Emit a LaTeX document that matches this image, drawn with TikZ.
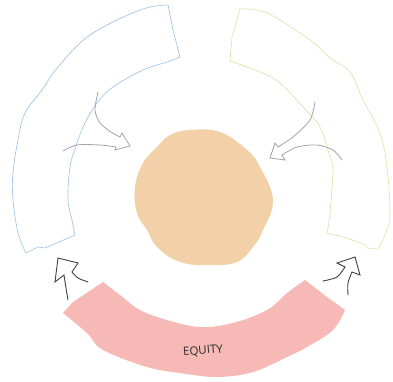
\documentclass[tikz,border=0pt]{standalone}
\usepackage{fontspec}
\setmainfont{Open Sans}
\begin{document}
\begin{tikzpicture}[x=1pt,y=-1pt,
  bandblue/.style={draw=blue!40!cyan!30!white, draw=bandbluecol, line width=0.6pt, line join=round},
  bandgreen/.style={draw=bandgreencol, line width=0.6pt, line join=round},
  lightarrow/.style={draw=arrowgray, line width=0.8pt, line join=miter, line cap=round},
  darkarrow/.style={draw=arrowdark, line width=0.9pt, line join=miter, line cap=round},
  lbl/.style={font=\fontsize{11.5}{12}\selectfont, text=textcol, inner sep=0pt}]
\definecolor{bandbluecol}{HTML}{9BBFE0}
\definecolor{bandgreencol}{HTML}{D6E3A4}
\definecolor{orangecol}{HTML}{F3D1A8}
\definecolor{pinkcol}{HTML}{F6B9B6}
\definecolor{arrowgray}{HTML}{A3A3A3}
\definecolor{arrowdark}{HTML}{404040}
\definecolor{textcol}{HTML}{2A2A2A}
\useasboundingbox (0,0) rectangle (393,382);
% left (blue) band
\draw[bandblue] plot[smooth, tension=0.6] coordinates {(26,253) (18,233) (13,200) (13,173) (18,140) (25,113) (42,90) (58,67) (90,35) (140,10) (168,5)}
  -- (173,30) -- (180,57)
  -- plot[smooth, tension=0.6] coordinates {(180,57) (167,62) (143,70) (113,87) (97,103) (85,123) (77,143) (70,167) (68,200) (72,220) (75,235)}
  -- (45,248) -- (38,247) -- cycle;
% right (green) band
\draw[bandgreen] plot[smooth, tension=0.6] coordinates {(240,9) (267,13) (310,40) (330,58) (350,72) (363,100) (380,133) (387,167) (390,213) (387,230) (378,249)}
  -- (367,248) -- (366,245) -- (347,238) -- (327,233)
  -- plot[smooth, tension=0.6] coordinates {(327,233) (330,213) (333,170) (330,157) (320,127) (303,107) (280,83) (260,72) (230,61)}
  -- (232,37) -- cycle;
% central blob
\fill[orangecol] plot[smooth cycle, tension=0.7] coordinates {(170,135) (190,130) (220,132) (247,150) (260,167) (273,200) (263,230) (253,247) (237,262) (210,265) (180,262) (157,247) (147,230) (137,213) (135,187) (143,163) (157,147)};
% bottom (pink) band
\fill[pinkcol] plot[smooth, tension=0.6] coordinates {(103,282) (120,295) (140,310) (167,320) (200,327) (233,323) (267,310) (287,293) (305,280)}
  -- (327,297) -- (345,310)
  -- plot[smooth, tension=0.6] coordinates {(345,310) (333,330) (307,347) (287,357) (253,372) (217,377) (180,373) (147,367) (103,350) (87,333) (63,313)}
  -- (73,302) -- cycle;
\node[lbl, rotate=4] (equity) at (203,351) {EQUITY};
% upper-left merging arrow
\draw[lightarrow] plot[smooth] coordinates {(98,92) (95,110) (100,123) (111,132) (120,137)}
  -- (122,133) -- (130,146) -- (115,150) -- (116,147)
  -- plot[smooth] coordinates {(116,147) (100,145) (77,145) (63,151)};
% upper-right merging arrow
\draw[lightarrow] plot[smooth] coordinates {(315,102) (310,120) (293,137) (278,147)}
  -- (275,143) -- (270,158) -- (285,160) -- (282,155)
  -- plot[smooth] coordinates {(282,155) (297,147) (317,145) (333,150) (342,160)};
% lower-left merging arrow
\draw[darkarrow] plot[smooth] coordinates {(68,300) (66,288) (64,275)}
  -- (55,282) -- (58,258) -- (78,263) -- (72,272)
  -- plot[smooth] coordinates {(72,272) (78,278) (88,282)};
% lower-right merging arrow
\draw[darkarrow] plot[smooth] coordinates {(323,281) (337,277) (345,267)}
  -- (337,263) -- (355,257) -- (360,275) -- (352,272)
  -- plot[smooth] coordinates {(352,272) (348,283) (348,295)};
\end{tikzpicture}
\end{document}
